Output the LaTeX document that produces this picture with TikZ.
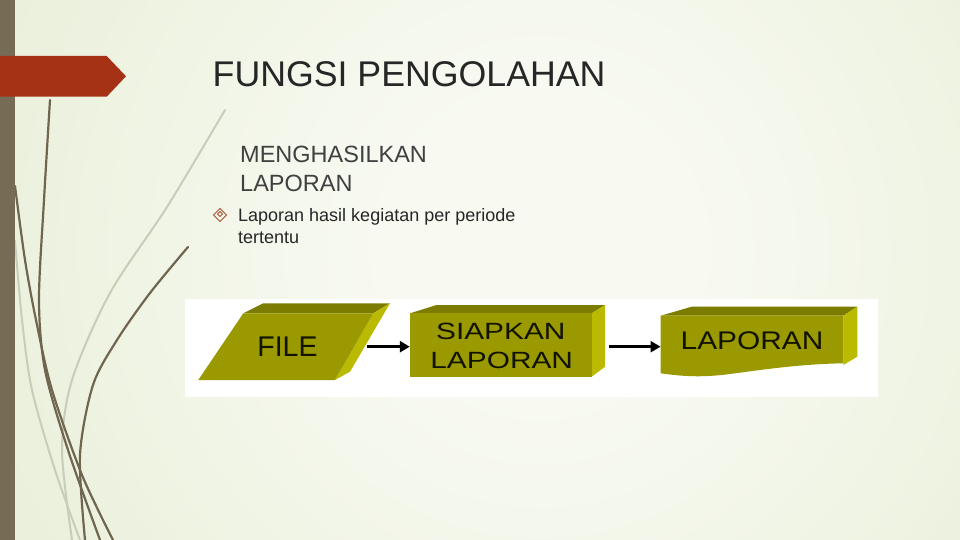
\documentclass[tikz,border=0pt]{standalone}
\usepackage{fontspec}
\setmainfont{Liberation Sans}
\usetikzlibrary{arrows.meta}
\definecolor{bgin}{RGB}{248,250,242}
\definecolor{bgout}{RGB}{224,233,203}
\definecolor{barcol}{RGB}{118,108,86}
\definecolor{redcol}{RGB}{166,50,22}
\definecolor{stemdark}{RGB}{112,102,80}
\definecolor{stemlight}{RGB}{200,205,186}
\definecolor{olfront}{RGB}{154,154,0}
\definecolor{oltop}{RGB}{124,124,0}
\definecolor{olside}{RGB}{186,186,0}
\definecolor{oltext}{RGB}{18,18,0}
\definecolor{titlecol}{RGB}{38,38,38}
\definecolor{subcol}{RGB}{64,64,64}
\definecolor{bulcol}{RGB}{170,80,50}
\pgfdeclareradialshading{bgsh}{\pgfpoint{0bp}{0bp}}{color(0bp)=(bgin); color(6bp)=(bgin); color(36bp)=(bgout); color(50bp)=(bgout)}
\begin{document}
\begin{tikzpicture}[x=1pt,y=-1pt,
  txt/.style={inner sep=0pt, anchor=base west},
  face/.style={inner sep=0pt, minimum height=63pt},
  stemd/.style={draw=stemdark, line width=2.2pt, line cap=round},
  steml/.style={draw=stemlight, line width=2pt, line cap=round},
  flowarrow/.style={line width=3pt, -{Triangle[length=10pt,width=11pt]}},
  boxtext/.style={inner sep=0pt, text=oltext}]
\useasboundingbox (0,0) rectangle (960,540);
% background
\begin{scope}
\clip (0,0) rectangle (960,540);
\shade[shading=bgsh] (540,250) circle (620);
\end{scope}
% grass stems
\draw[steml] plot[smooth] coordinates {(225,110) (167,207) (110,293) (72,380) (62,450) (72,540)};
\draw[steml] plot[smooth] coordinates {(15,241) (22,320) (32,390) (55,470) (80,540)};
\draw[stemd] plot[smooth] coordinates {(50,100) (44,200) (39,300) (45,370) (68,450) (100,540)};
\draw[stemd] plot[smooth] coordinates {(15,186) (25,260) (36,320) (52,390) (82,475) (113,540)};
\draw[stemd] plot[smooth] coordinates {(188,247) (150,293) (117,340) (93,385) (80,455) (85,540)};
% left bar and red arrow
\fill[barcol] (0,0) rectangle (15,540);
\fill[redcol] (0,56) -- (106.7,56) -- (126,76.3) -- (106.7,96.7) -- (0,96.7) -- cycle;
% titles
\node[txt, text=titlecol, font=\fontsize{35.7}{42}\selectfont] (title) at (212.5,86.7) {FUNGSI PENGOLAHAN};
\node[txt, text=subcol, font=\fontsize{23.5}{28}\selectfont] (sub1) at (240,162.3) {MENGHASILKAN};
\node[txt, text=subcol, font=\fontsize{23.5}{28}\selectfont] (sub2) at (240,191.7) {LAPORAN};
% bullet
\draw[bulcol, line width=1pt] (220,208.5) -- (226.5,215) -- (220,221.5) -- (213.5,215) -- cycle;
\draw[bulcol, line width=0.8pt] (220,211.5) -- (222.5,214) -- (220,216.5) -- (217.5,214) -- cycle;
\node[txt, text=titlecol, font=\fontsize{18}{22}\selectfont] (bul1) at (238,221.5) {Laporan hasil kegiatan per periode};
\node[txt, text=titlecol, font=\fontsize{18}{22}\selectfont] (bul2) at (238,243.5) {tertentu};
% diagram panel
\fill[white] (185,299) rectangle (878,397);
% FILE parallelogram
\fill[oltop] (243.3,313.3) -- (263.3,303.3) -- (390,303.3) -- (373.3,313.3) -- cycle;
\fill[olside] (373.3,313.3) -- (390,303.3) -- (350,371.7) -- (335,380) -- cycle;
\fill[olfront] (198.3,380) -- (335,380) -- (373.3,313.3) -- (243.3,313.3) -- cycle;
\node[face, minimum width=156.7pt] (fileface) at (288.35,346.7) {};
\node[boxtext, font=\fontsize{28.5}{30}\selectfont] (filetext) at (287.5,346.7) {FILE};
% SIAPKAN LAPORAN box
\fill[oltop] (410,313.3) -- (436.7,305) -- (605,305) -- (591.7,313.3) -- cycle;
\fill[olside] (591.7,313.3) -- (605,305) -- (605,366.7) -- (591.7,376.7) -- cycle;
\fill[olfront] (410,313.3) rectangle (591.7,376.7);
\node[face, minimum width=181.7pt] (siapface) at (500.85,346.7) {};
\node[boxtext, font=\fontsize{23.5}{28}\selectfont] (siap1) at (500.8,331.7) {\scalebox{1.27}[1]{SIAPKAN}};
\node[boxtext, font=\fontsize{23.5}{28}\selectfont] (siap2) at (501.7,360) {\scalebox{1.27}[1]{LAPORAN}};
% LAPORAN document
\fill[oltop] (660.7,315.7) -- (691.7,306.7) -- (857.3,306.7) -- (843.3,315.7) -- cycle;
\fill[olside] (843.3,315.7) -- (857.3,306.7) -- (857.3,356.7) -- (843.3,365) -- cycle;
\fill[olfront] (660.7,315.7) -- (843.3,315.7) -- (843.3,363.3)
  .. controls (800,364) and (760,370) .. (730,374)
  .. controls (700,378) and (680,376) .. (660.7,373.3) -- cycle;
\node[face, minimum width=182.6pt] (lapface) at (752,346.7) {};
\node[boxtext, font=\fontsize{25.5}{30}\selectfont] (laptext) at (752,340.8) {\scalebox{1.17}[1]{LAPORAN}};
% arrows
\draw[flowarrow] (fileface.east) -- (siapface.west);
\draw[flowarrow] ([xshift=16.6pt]siapface.east) -- (lapface.west);
\end{tikzpicture}
\end{document}
